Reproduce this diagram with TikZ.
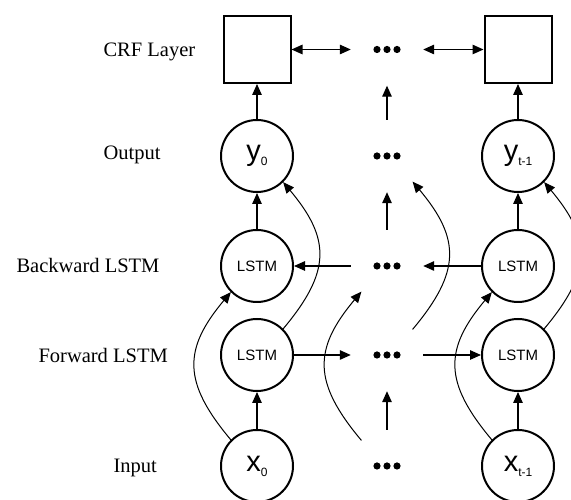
\documentclass[tikz,border=0pt]{standalone}
\usepackage{fontspec}
\setmainfont{Liberation Serif}
\newfontfamily\nodefont{Liberation Sans}
\usetikzlibrary{arrows.meta}

% letter with a lowered index, as written inside the variable circles
\newcommand\VarLetter[1]{{\fontsize{29}{29}\selectfont #1}}
\newcommand\VarIndex[1]{{\fontsize{12}{12}\selectfont\raisebox{-5pt}{#1}}}

\begin{document}
\begin{tikzpicture}[x=1pt,y=1pt,
  unit/.style={circle, draw, line width=2pt, minimum size=72pt, inner sep=0pt, font=\nodefont},
  cell/.style={unit, font=\nodefont\fontsize{15}{15}\selectfont},
  ghost/.style={circle, minimum size=72pt, inner sep=0pt},
  crfbox/.style={rectangle, draw, line width=2pt, minimum size=67pt, inner sep=0pt},
  tip/.tip={Triangle[length=11pt,width=9.5pt]},
  link/.style={line width=1.3pt, -tip},
  bilink/.style={line width=1.3pt, tip-tip},
  skip/.style={line width=1pt, -tip},
  layer/.style={anchor=base west, font=\fontsize{20.5}{24}\selectfont}
]
\useasboundingbox (0,0) rectangle (571,500);

% row labels
\node[layer] (lcrf) at (100,443) {CRF Layer};
\node[layer] (lout) at (100,340) {Output};
\node[layer] (lbw)  at (13,227)  {Backward LSTM};
\node[layer] (lfw)  at (35,137)  {Forward LSTM};
\node[layer] (lin)  at (110,27)  {Input};

% first time step
\node[crfbox] (c0) at (257,450.5) {};
\node[unit] (y0) at (257,344) {\VarLetter{y}\VarIndex{0}};
\node[cell] (b0) at (257,234) {LSTM};
\node[cell] (f0) at (257,145) {LSTM};
\node[unit] (x0) at (257,34)  {\VarLetter{x}\VarIndex{0}};

% elided middle steps
\node[ghost] (cm) at (387,450.5) {};
\node[ghost] (ym) at (387,344) {};
\node[ghost] (bm) at (387,234) {};
\node[ghost] (fm) at (387,145) {};
\node[ghost] (xm) at (387,34)  {};
\foreach \n in {cm,ym,bm,fm,xm}
  \foreach \d in {-10,0,10}
    \fill ([xshift=\d pt]\n.center) circle (3.6pt);

% last time step
\node[crfbox] (c1) at (518,450.5) {};
\node[unit] (y1) at (518,344) {\VarLetter{y}\VarIndex{t-1}};
\node[cell] (b1) at (518,234) {LSTM};
\node[cell] (f1) at (518,145) {LSTM};
\node[unit] (x1) at (518,34)  {\VarLetter{x}\VarIndex{t-1}};

% horizontal connections
\draw[bilink] (c0.east) -- (cm.west);
\draw[bilink] (cm.east) -- (c1.west);
\draw[link] (bm.west) -- (b0.east);
\draw[link] (b1.west) -- (bm.east);
\draw[link] (f0.east) -- (fm.west);
\draw[link] (fm.east) -- (f1.west);

% vertical and skip connections in every column
\foreach \k in {0,m,1} {
  \draw[link] (x\k.north) -- (f\k.south);
  \draw[link] (b\k.north) -- (y\k.south);
  \draw[link] (y\k.north) -- (c\k.south);
  \draw[skip] (x\k.135) to[out=130,in=-130,looseness=1.3] (b\k.225);
  \draw[skip] (f\k.45) to[out=50,in=-50,looseness=1.3] (y\k.-45);
}
\end{tikzpicture}
\end{document}
